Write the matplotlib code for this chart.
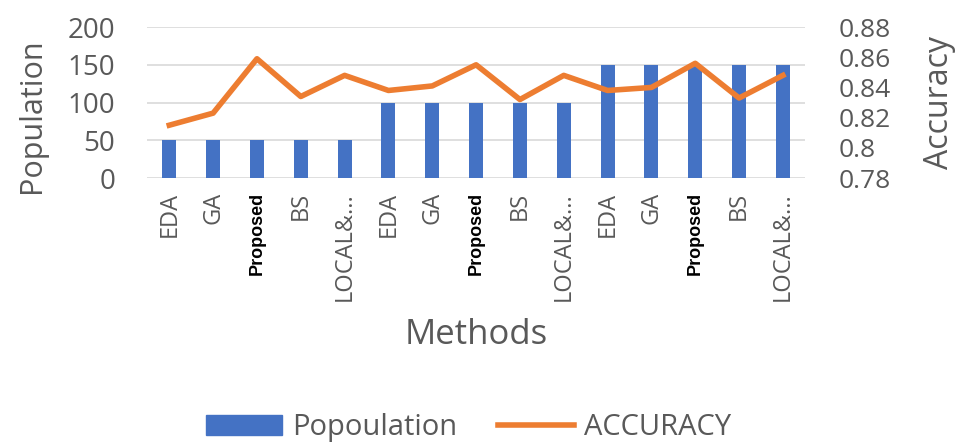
"""
Population bars with accuracy line on a twin axis
"""

from matplotlib import pyplot as plt
from matplotlib.patches import Patch
from matplotlib.lines import Line2D
import numpy as np

methods = ["EDA", "GA", "Proposed", "BS", "LOCAL&...",
           "EDA", "GA", "Proposed", "BS", "LOCAL&...",
           "EDA", "GA", "Proposed", "BS", "LOCAL&..."]
population = [50, 50, 50, 50, 50,
              100, 100, 100, 100, 100,
              150, 150, 150, 150, 150]
accuracy = [0.815, 0.823, 0.859, 0.834, 0.848,
            0.838, 0.841, 0.855, 0.832, 0.848,
            0.838, 0.840, 0.856, 0.833, 0.848]
acc_ticks = [0.78, 0.80, 0.82, 0.84, 0.86, 0.88]

blue = "#4472C4"
orange = "#ED7D31"
grey = "#595959"

plt.rcParams['font.family'] = ['Open Sans', 'DejaVu Sans']

fig = plt.figure(figsize=(9.57, 4.43), dpi=100)
ax = fig.add_axes([0.154, 0.598, 0.687, 0.341])
x = np.arange(len(methods))

ax.bar(x, population, width=0.32, color=blue, zorder=2)
ax.set_ylim(0, 200)
ax.set_yticks([0, 50, 100, 150, 200])
ax.set_xlim(-0.5, len(methods) - 0.5)
ax.grid(axis="y", color="#d9d9d9", linewidth=1.2, zorder=0)
for sp in ax.spines.values():
    sp.set_visible(False)
ax.tick_params(axis="y", length=0, labelsize=20, colors=grey, pad=23)
ax.tick_params(axis="x", length=0, pad=10)
ax.set_xticks(x)
ax.set_xticklabels(methods, rotation=90, fontsize=17, color=grey)
for lab in ax.get_xticklabels():
    if lab.get_text() == "Proposed":
        lab.set_fontfamily("Liberation Sans")
        lab.set_fontweight("bold")
        lab.set_fontsize(13)
        lab.set_color("black")
ax.set_ylabel("Population", fontsize=22, color=grey, va="center")
ax.yaxis.set_label_coords(-0.176, 0.41)
ax.set_xlabel("Methods", fontsize=25, color=grey, va="center")
ax.xaxis.set_label_coords(0.5, -1.04)

ax2 = ax.twinx()
ax2.plot(x, accuracy, color=orange, linewidth=4, zorder=3)
ax2.set_ylim(0.78, 0.88)
ax2.set_yticks(acc_ticks)
ax2.set_yticklabels(["%g" % v for v in acc_ticks])
for sp in ax2.spines.values():
    sp.set_visible(False)
ax2.tick_params(length=0, labelsize=19, colors=grey, pad=24)
ax2.set_ylabel("Accuracy", fontsize=23, color=grey, va="center")
ax2.yaxis.set_label_coords(1.205, 0.5)

handles = [Patch(color=blue), Line2D([], [], color=orange, linewidth=4)]
fig.legend(handles, ["Popoulation", "ACCURACY"], loc="center",
           bbox_to_anchor=(0.49, 0.035), ncol=2, frameon=False,
           fontsize=21, labelcolor=grey, handlelength=2.6,
           handletextpad=0.35, columnspacing=1.4)

fig.savefig("out.png", dpi=100)
